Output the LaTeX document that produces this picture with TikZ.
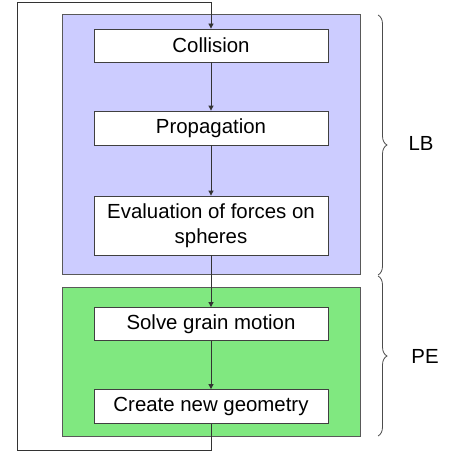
\documentclass[tikz,border=0pt]{standalone}
\usepackage{fontspec}
\setmainfont{Liberation Sans}
\usetikzlibrary{arrows.meta,decorations.pathreplacing}

\definecolor{lbblue}{RGB}{204,204,255}
\definecolor{pegreen}{RGB}{128,232,128}

\tikzset{
  stepbox/.style={draw=black!75, fill=white, line width=0.8pt, minimum width=234pt,
    inner sep=0pt, align=center, font=\fontsize{20.4}{24.5}\selectfont},
  flow/.style={-{Triangle[length=5pt,width=5pt]}, draw=black!80, line width=0.8pt},
  panel/.style={draw=black!65, line width=0.8pt},
  bracket/.style={decorate, decoration={brace, amplitude=9pt}, draw=black!70, line width=0.8pt},
  tag/.style={font=\fontsize{20.4}{24.5}\selectfont},
}

\begin{document}
\begin{tikzpicture}[x=1pt,y=-1pt]
\useasboundingbox (0,0) rectangle (458,452);
\begin{scope}

% coloured blocks
\filldraw[panel, fill=lbblue] (62,14) rectangle (360,274);
\filldraw[panel, fill=pegreen] (62,287) rectangle (360,436);

% steps
\node[stepbox, minimum height=33pt] (coll) at (211,45.5) {Collision};
\node[stepbox, minimum height=34pt] (prop) at (211,128) {Propagation};
\node[stepbox, minimum height=59pt] (force) at (211,225.5) {Evaluation of forces on\\spheres};
\node[stepbox, minimum height=33pt] (grain) at (211,324) {Solve grain motion};
\node[stepbox, minimum height=34pt] (geom) at (211,406.5) {Create new geometry};

\draw[flow] (coll) -- (prop);
\draw[flow] (prop) -- (force);
\draw[flow] (force) -- (grain);
\draw[flow] (grain) -- (geom);

% time loop
\coordinate (loopbl) at (17,450);
\coordinate (looptl) at (17,2);
\draw[flow] (geom.south) |- (loopbl) -- (looptl) -| (coll.north);

% braces
\draw[bracket] (378,15) -- (378,275);
\draw[bracket] (378,276) -- (378,436);
\node[tag] (lb) at (421,143) {LB};
\node[tag] (pe) at (425,356) {PE};

\end{scope}
\end{tikzpicture}
\end{document}
